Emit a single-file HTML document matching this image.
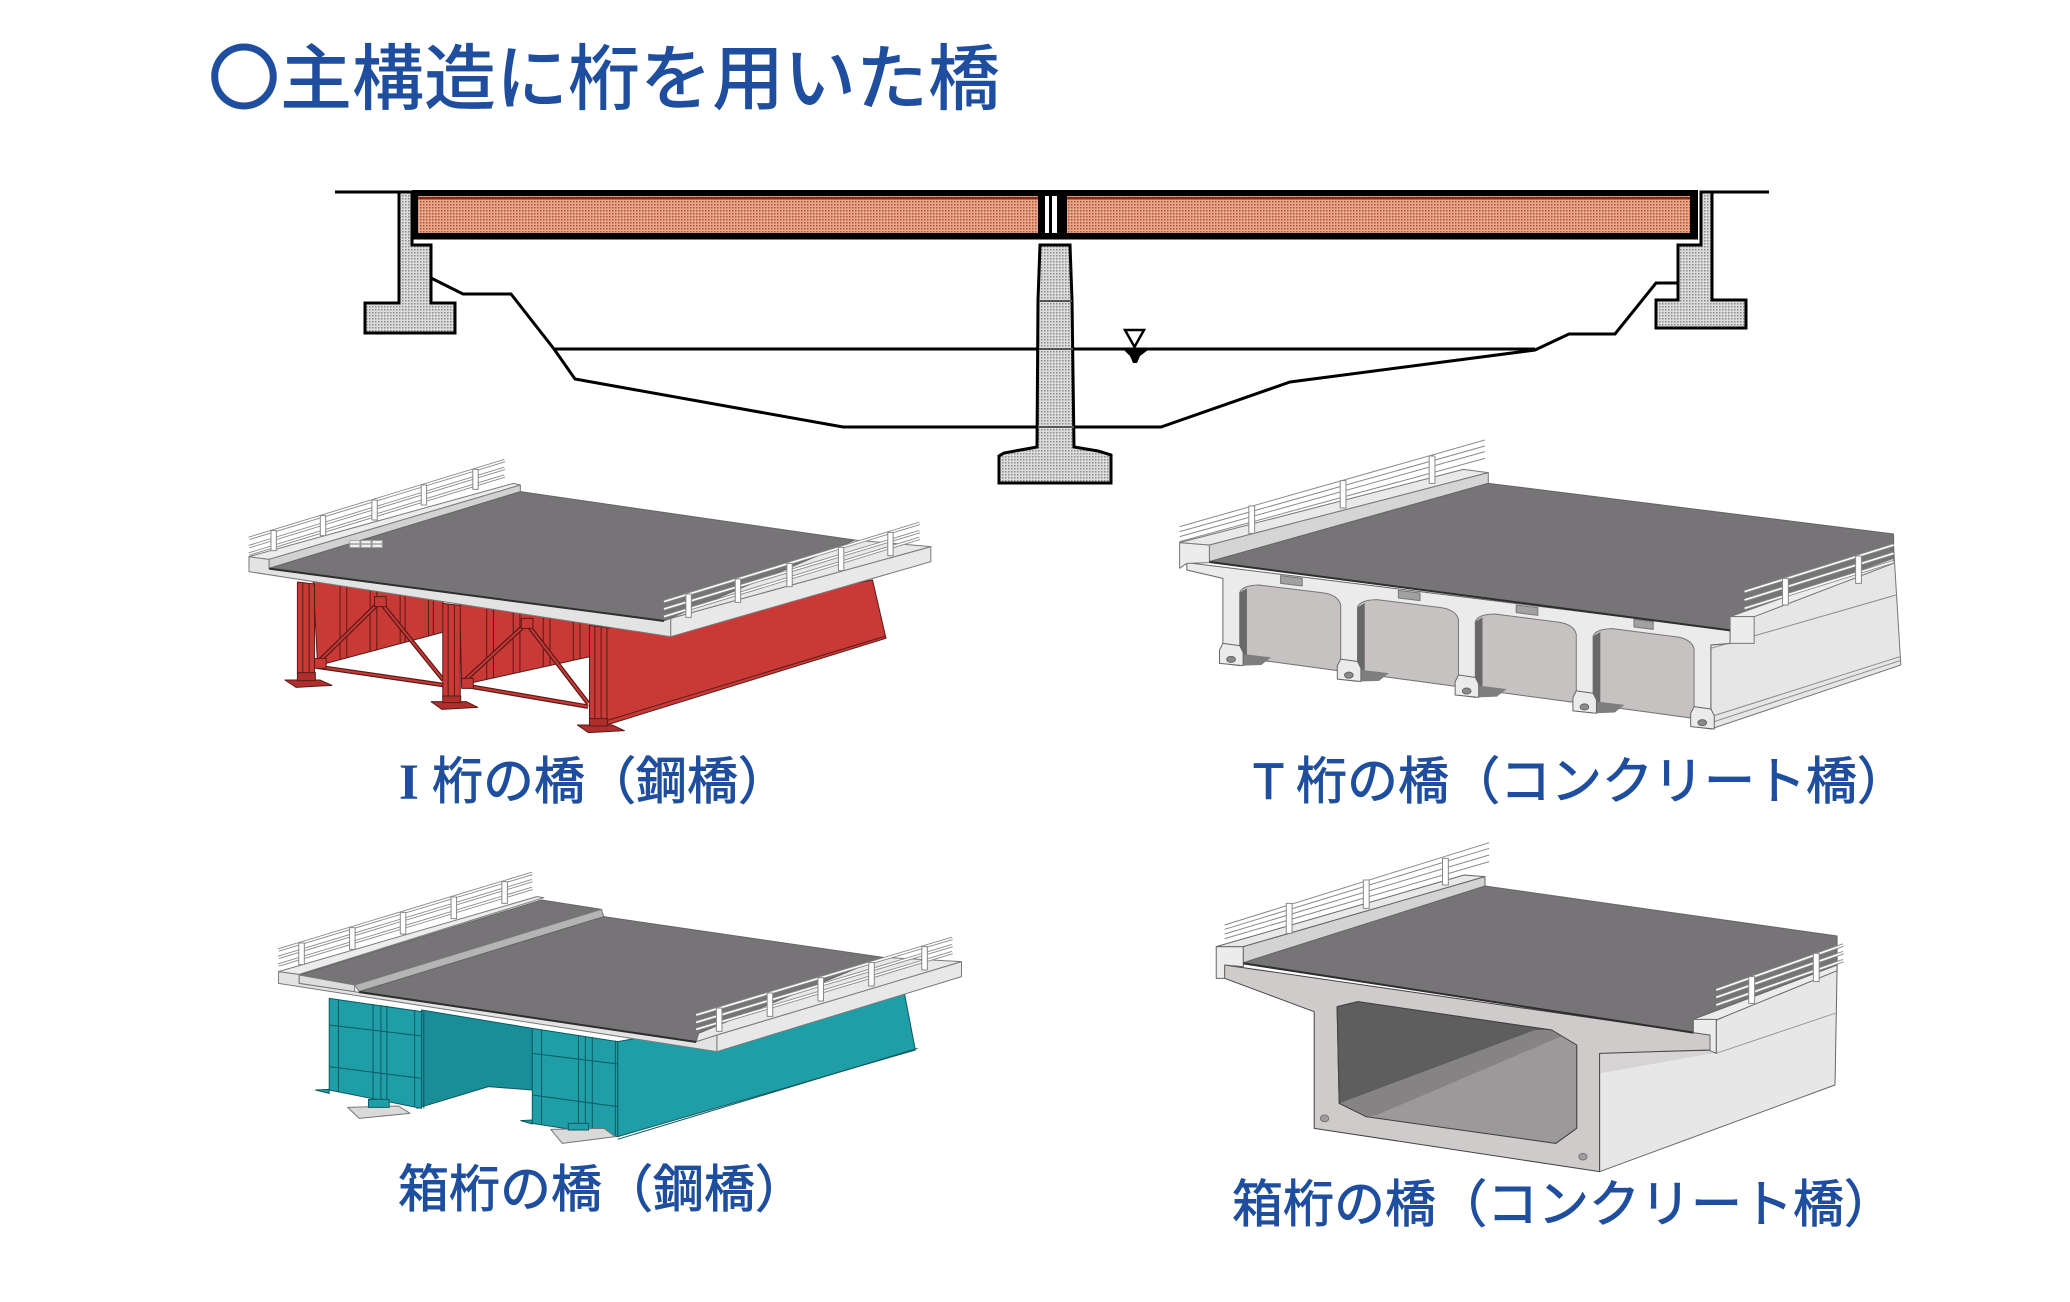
<!DOCTYPE html>
<html><head><meta charset="utf-8">
<style>
html,body{margin:0;padding:0;background:#fff;}
body{width:2070px;height:1302px;overflow:hidden;}
svg{display:block;}
.g *{vector-effect:non-scaling-stroke;stroke-linejoin:round;}
.jp{font-family:"Liberation Sans","Noto Sans CJK JP",sans-serif;fill:#1f4e9e;font-weight:400;stroke:#1f4e9e;stroke-width:0.9px;}
.lt{font-family:"Liberation Sans",sans-serif;fill:#1f4e9e;stroke:#1f4e9e;stroke-width:0.9px;}
.ls{font-family:"Liberation Serif",serif;fill:#1f4e9e;font-weight:bold;}
</style></head><body>
<svg width="2070" height="1302" viewBox="0 0 2070 1302" xmlns="http://www.w3.org/2000/svg">
<defs>
<pattern id="dotO" width="3" height="3" patternUnits="userSpaceOnUse"><rect width="3" height="3" fill="#e8a88c"/><rect width="1.5" height="1.5" fill="#b04f34"/></pattern>
<pattern id="dotG" width="3" height="3" patternUnits="userSpaceOnUse"><rect width="3" height="3" fill="#dcdcdc"/><rect width="1.5" height="1.5" fill="#8a8a8a"/></pattern>
</defs>

<!-- Title -->
<text x="208" y="104" font-size="72" style="font-family:'Noto Sans CJK JP',sans-serif;fill:#1f4e9e;font-weight:500">〇主構造に桁を用いた橋</text>

<!-- ============ Section diagram ============ -->
<g fill="none" stroke="#000" stroke-width="3">
<polyline points="335,192 399,192"/>
<polyline points="1712,192 1769,192"/>
<polyline points="431,278 463,294 511,294 554,349 575,379 843,427 1040,427"/>
<polyline points="1072,427 1161,427 1290,382 1535,350 1569,334 1615,334 1656,283 1678,283"/>
<polyline points="554,349 1040,349"/>
<polyline points="1072,349 1535,349"/>
</g>
<!-- deck -->
<rect x="412" y="190" width="1286" height="49.5" fill="#000"/>
<rect x="418" y="196" width="620" height="37" fill="url(#dotO)"/>
<rect x="1067" y="196" width="623" height="37" fill="url(#dotO)"/>
<rect x="418" y="197" width="620" height="2.5" fill="#7a2e18"/>
<rect x="1067" y="197" width="623" height="2.5" fill="#7a2e18"/>
<rect x="1045" y="196" width="4" height="37" fill="#fff"/>
<rect x="1052" y="196" width="5" height="37" fill="#fff"/>
<!-- abutments -->
<polygon points="399,192 412,192 412,245 431,245 431,303 455,303 455,333 365,333 365,303 399,303" fill="url(#dotG)" stroke="#000" stroke-width="3"/>
<polygon points="1701,192 1712,192 1712,300 1746,300 1746,328 1656,328 1656,300 1678,300 1678,245 1701,245" fill="url(#dotG)" stroke="#000" stroke-width="3"/>
<!-- pier -->
<polygon points="1040,245 1070,245 1072,300 1074,447 1098,451 1111,455 1111,483 999,483 999,456 1004,453 1037,447 1038,300" fill="url(#dotG)" stroke="#000" stroke-width="3"/>
<g stroke="#555" stroke-width="2"><line x1="1039" y1="301" x2="1072" y2="301"/><line x1="1039" y1="349" x2="1073" y2="349"/><line x1="1038" y1="427" x2="1074" y2="427"/></g>
<!-- water mark -->
<polygon points="1125,330 1144,330 1134.5,347" fill="#fff" stroke="#000" stroke-width="2.5"/>
<polygon points="1124,350 1148,350 1140,356 1137,363 1133,363 1130,356" fill="#000"/>

<!-- ============ I-girder bridge ============ -->
<g class="g" transform="translate(240,450) scale(0.4486,0.33333)" stroke="#5a1a18" stroke-width="1">
 <polygon points="817,535 1410,390 1440,565 817,825" fill="#c93936"/>
 <polyline points="817,812 1440,558" fill="none"/>
 <polygon points="163,392 453,452 457,545 173,647" fill="#c93936"/>
 <polygon points="490,460 780,520 780,620 494,705" fill="#c93936"/>
 <path d="M223,400V629 M238,400V624 M290,410V605 M305,412V600 M357,420V581 M368,422V577 M420,430V558 M431,432V554" fill="none"/>
 <path d="M550,470V688 M565,472V684 M609,480V671 M624,482V666 M676,495V651 M691,498V646 M743,508V631 M758,510V626" fill="none"/>
 <path d="M171,650 L453,705 M494,705 L776,770 M312,455 L175,635 M312,455 L453,690 M639,520 L498,695 M639,520 L776,760" fill="none" stroke="#5a1a18" stroke-width="4.5"/>
 <path d="M171,650 L453,705 M494,705 L776,770 M312,455 L175,635 M312,455 L453,690 M639,520 L498,695 M639,520 L776,760" fill="none" stroke="#c93936" stroke-width="2"/>
 <rect x="300" y="440" width="26" height="30" fill="#c93936"/>
 <rect x="627" y="505" width="26" height="30" fill="#c93936"/>
 <rect x="166" y="625" width="26" height="30" fill="#c93936"/>
 <rect x="494" y="685" width="26" height="30" fill="#c93936"/>
 <polygon points="100,690 178,690 205,706 125,712" fill="#b02e2b"/>
 <polygon points="426,755 505,755 530,772 450,778" fill="#b02e2b"/>
 <polygon points="752,825 830,825 857,842 777,848" fill="#b02e2b"/>
 <polygon points="128,396 166,402 166,675 128,670" fill="#c93936"/>
 <path d="M140,398V672 M154,400V673" fill="none"/>
 <polygon points="452,460 491,466 491,745 452,740" fill="#c93936"/>
 <path d="M464,462V742 M478,464V743" fill="none"/>
 <polygon points="779,526 818,532 818,812 779,806" fill="#c93936"/>
 <path d="M791,528V808 M805,530V810" fill="none"/>
 <rect x="128" y="668" width="40" height="24" fill="#b02e2b"/>
 <rect x="452" y="738" width="40" height="20" fill="#b02e2b"/>
 <rect x="779" y="806" width="40" height="22" fill="#b02e2b"/>
 <g stroke="#7a7a7a">
  <polygon points="960,505 1540,290 1540,335 960,560" fill="#e8e8e8"/>
  <polygon points="20,320 65,328 65,355 945,512 960,505 960,560 20,365" fill="#e3e3e3"/>
  <polygon points="20,320 610,100 625,105 65,328" fill="#ececec"/>
  <polygon points="65,328 625,105 625,125 65,355" fill="#d2d2d2"/>
  <polygon points="945,512 1370,270 1540,290 960,505" fill="#e8e8e8"/>
  <polygon points="65,355 625,125 1370,270 945,512" fill="#767476" stroke="#666"/>
 </g>
 <line x1="65" y1="356" x2="945" y2="513" stroke="#2e2e2e" stroke-width="2"/>
 <g fill="#f4f4f4" stroke="#aaa">
  <rect x="245" y="272" width="22" height="9"/><rect x="270" y="272" width="22" height="9"/><rect x="295" y="272" width="22" height="9"/>
  <rect x="245" y="283" width="22" height="9"/><rect x="270" y="283" width="22" height="9"/><rect x="295" y="283" width="22" height="9"/>
 </g>
 <g fill="none">
  <path d="M20,265 L590,32 M20,290 L590,55 M20,312 L590,78" stroke="#8a8a8a" stroke-width="3.4"/>
  <path d="M20,265 L590,32 M20,290 L590,55 M20,312 L590,78" stroke="#fff" stroke-width="1.6"/>
 </g>
 <g fill="#fff" stroke="#888">
  <rect x="69" y="242" width="12" height="60"/><rect x="179" y="197" width="12" height="60"/><rect x="294" y="150" width="12" height="60"/><rect x="404" y="105" width="12" height="60"/><rect x="519" y="58" width="12" height="60"/>
 </g>
 <g fill="none">
  <path d="M945,455 L1515,220 M945,477 L1515,245 M945,500 L1515,265" stroke="#8a8a8a" stroke-width="3.4"/>
  <path d="M945,455 L1515,220 M945,477 L1515,245 M945,500 L1515,265" stroke="#fff" stroke-width="1.6"/>
 </g>
 <g fill="#fff" stroke="#888">
  <rect x="994" y="432" width="12" height="70"/><rect x="1104" y="387" width="12" height="70"/><rect x="1219" y="340" width="12" height="70"/><rect x="1334" y="292" width="12" height="70"/><rect x="1444" y="247" width="12" height="70"/>
 </g>
</g>

<!-- ============ T-girder bridge ============ -->
<g class="g" transform="translate(1170,430) scale(0.4808,0.33333)" stroke="#777" stroke-width="1">
 <polygon points="1165,560 1505,350 1520,705 1125,897 1125,645 1165,640" fill="#e6e6e6"/>
 <path d="M1125,655 L1510,495 M1125,860 L1518,680 M1125,878 L1518,692" fill="none" stroke="#8a8a8a"/>
 <polygon points="35,398 1165,600 1165,640 1125,645 1125,897 1090,890 1090,865 880,824 880,849 845,843 845,818 635,777 635,802 600,795 600,770 390,729 390,754 355,748 355,723 145,682 145,707 110,700 110,445 35,420" fill="#ebebeb" stroke="#666"/>
 <g fill="#c6c2c2" stroke="#777">
  <path d="M145,488 Q150,466 185,465 L315,488 Q350,494 355,525 L355,723 L145,682 Z"/>
  <path d="M390,532 Q395,510 430,509 L560,532 Q595,538 600,569 L600,770 L390,729 Z"/>
  <path d="M635,575 Q640,553 675,552 L805,576 Q840,582 845,613 L845,818 L635,777 Z"/>
  <path d="M880,619 Q885,597 920,596 L1050,620 Q1085,626 1090,657 L1090,865 L880,824 Z"/>
 </g>
 <g fill="#686868" stroke="none">
  <path d="M145,488 L160,475 L160,685 L145,682 Z"/>
  <path d="M390,532 L405,519 L405,732 L390,729 Z"/>
  <path d="M635,575 L650,562 L650,780 L635,777 Z"/>
  <path d="M880,619 L895,606 L895,827 L880,824 Z"/>
 </g>
 <g fill="#a3a0a0" stroke="#777">
  <polygon points="230,437 275,445 275,468 230,460"/>
  <polygon points="475,481 520,489 520,512 475,504"/>
  <polygon points="720,525 765,533 765,556 720,548"/>
  <polygon points="965,568 1005,575 1005,598 965,591"/>
 </g>
 <g fill="#7e7e7e" stroke="none">
  <polygon points="152,672 210,682 190,705 152,707"/>
  <polygon points="397,719.5 455,729.5 435,752.5 397,754.5"/>
  <polygon points="642,767 700,777 680,800 642,802"/>
  <polygon points="887,814.6 945,824.6 925,847.6 887,849.6"/>
 </g>
 <g fill="#ebebeb" stroke="#666">
  <polygon points="110,640 103,660 103,700 152,707 152,667 145,647"/>
  <polygon points="355,687.5 348,707.5 348,747.5 397,754.5 397,714.5 390,694.5"/>
  <polygon points="600,735 593,755 593,795 642,802 642,762 635,742"/>
  <polygon points="845,782.6 838,802.6 838,842.6 887,849.6 887,809.6 880,789.6"/>
  <polygon points="1090,830 1083,850 1083,890 1132,897 1132,857 1125,837"/>
 </g>
 <g fill="#8a8a8a" stroke="#666">
  <circle cx="127" cy="688" r="9"/><circle cx="372" cy="735.5" r="9"/><circle cx="617" cy="783" r="9"/><circle cx="862" cy="830.6" r="9"/><circle cx="1107" cy="878" r="9"/>
 </g>
 <polygon points="20,338 82,345 82,398 35,400 20,415" fill="#ececec"/>
 <polygon points="20,338 610,118 662,128 82,345" fill="#e9e9e9"/>
 <polygon points="82,345 662,128 662,160 82,395" fill="#d5d5d5"/>
 <polygon points="82,395 662,160 1505,312 1505,385 1165,560 1165,600" fill="#767476" stroke="#666"/>
 <polygon points="1165,560 1505,385 1505,400 1215,560" fill="#ececec"/>
 <polygon points="1165,560 1215,560 1215,640 1165,640" fill="#ececec"/>
 <line x1="82" y1="396" x2="1165" y2="601" stroke="#2e2e2e" stroke-width="2"/>
 <path d="M20,290 L655,30 M20,305 L655,48 M20,320 L655,65 M20,335 L655,85" fill="none" stroke="#8a8a8a" stroke-width="1"/>
 <g fill="#fff" stroke="#888">
  <rect x="164" y="228" width="12" height="82"/><rect x="354" y="152" width="12" height="82"/><rect x="539" y="78" width="12" height="82"/>
 </g>
 <g fill="none">
  <path d="M1195,485 L1505,345 M1195,510 L1505,370 M1195,535 L1505,395" stroke="#8a8a8a" stroke-width="3.4"/>
  <path d="M1195,485 L1505,345 M1195,510 L1505,370 M1195,535 L1505,395" stroke="#fff" stroke-width="1.6"/>
 </g>
 <g fill="#fff" stroke="#888">
  <rect x="1274" y="445" width="12" height="80"/><rect x="1426" y="378" width="12" height="82"/>
 </g>
</g>

<!-- ============ Steel box girder bridge ============ -->
<g class="g" transform="translate(260,860) scale(0.4615,0.33333)" stroke="#0c5a60" stroke-width="1">
 <polygon points="775,545 1395,390 1420,570 775,830" fill="#1f9ea7"/>
 <polyline points="775,838 1425,565" fill="none"/>
 <polygon points="350,450 590,505 590,690 495,680 340,745" fill="#198e97"/>
 <polygon points="590,505 775,545 775,830 590,790" fill="#1f9ea7"/>
 <polygon points="150,415 350,455 350,745 150,690" fill="#1f9ea7"/>
 <polygon points="120,690 150,688 150,700" fill="#1f9ea7"/>
 <polygon points="565,782 590,780 590,792" fill="#1f9ea7"/>
 <path d="M170,418V694 M245,432V715 M262,435V718 M275,437V721 M335,450V740 M150,495 L350,528 M150,620 L350,655 M610,509V794 M690,525V808 M705,528V812 M720,531V815 M770,542V826 M590,580 L775,612 M590,705 L775,740 M355,455V745" fill="none"/>
 <polygon points="190,742 300,738 325,760 215,775" fill="#dadada" stroke="#777"/>
 <rect x="235" y="718" width="45" height="24" fill="#1f9ea7"/>
 <polygon points="630,808 745,805 770,830 655,850" fill="#dadada" stroke="#777"/>
 <rect x="668" y="790" width="44" height="20" fill="#1f9ea7"/>
 <g stroke="#7a7a7a">
  <polygon points="990,525 1520,305 1520,350 990,575" fill="#e8e8e8"/>
  <polygon points="40,335 85,343 85,370 205,395 215,398 945,545 990,525 990,575 40,370" fill="#e3e3e3"/>
  <polygon points="40,335 600,110 615,113 85,343" fill="#ececec"/>
  <polygon points="945,545 950,520 1350,292 1520,305 990,525" fill="#e8e8e8"/>
  <polygon points="85,345 610,120 740,148 205,375" fill="#767476" stroke="#666"/>
  <polygon points="85,345 205,375 205,395 85,370" fill="#dddddd"/>
  <polygon points="205,375 740,148 745,170 215,395" fill="#b4b4b4"/>
  <polygon points="215,395 745,170 1350,292 950,520 945,545" fill="#767476" stroke="#666"/>
 </g>
 <line x1="215" y1="396" x2="945" y2="546" stroke="#2e2e2e" stroke-width="2"/>
 <g fill="none">
  <path d="M40,270 L590,40 M40,292 L590,62 M40,315 L590,85" stroke="#8a8a8a" stroke-width="3.4"/>
  <path d="M40,270 L590,40 M40,292 L590,62 M40,315 L590,85" stroke="#fff" stroke-width="1.6"/>
 </g>
 <g fill="#fff" stroke="#888">
  <rect x="84" y="249" width="12" height="65"/><rect x="194" y="203" width="12" height="65"/><rect x="304" y="157" width="12" height="65"/><rect x="414" y="111" width="12" height="65"/><rect x="524" y="65" width="12" height="65"/>
 </g>
 <g fill="none">
  <path d="M945,465 L1500,235 M945,487 L1500,257 M945,508 L1500,278" stroke="#8a8a8a" stroke-width="3.4"/>
  <path d="M945,465 L1500,235 M945,487 L1500,257 M945,508 L1500,278" stroke="#fff" stroke-width="1.6"/>
 </g>
 <g fill="#fff" stroke="#888">
  <rect x="989" y="444" width="12" height="70"/><rect x="1099" y="399" width="12" height="70"/><rect x="1209" y="353" width="12" height="70"/><rect x="1319" y="308" width="12" height="70"/><rect x="1434" y="260" width="12" height="70"/>
 </g>
</g>

<!-- ============ Concrete box girder bridge ============ -->
<g class="g" transform="translate(1210,840) scale(0.41667,0.33333)" stroke="#666" stroke-width="1">
 <polygon points="935,640 1200,632 1215,640 1215,540 1505,385 1500,735 935,995" fill="#e7e7e7"/>
 <polygon points="935,640 1205,632 1205,640 935,700" fill="#d6d4d4" stroke="none"/>
 <path d="M1215,640 L1500,520" fill="none" stroke="#999"/>
 <polygon points="35,375 1200,585 1200,630 935,640 935,995 250,865 250,515 35,415" fill="#cfcbcb" stroke="#444"/>
 <polygon points="355,485 820,570 880,615 880,865 830,910 375,830 310,790 305,500" fill="#5e5e5e" stroke="#444"/>
 <polygon points="310,790 780,570 820,570 880,615 880,865 830,910 375,830" fill="#858383" stroke="none"/>
 <polygon points="400,825 845,588 880,615 880,865 830,910 375,830" fill="#9b9999" stroke="none"/>
 <polygon points="355,485 820,570 880,615 880,865 830,910 375,830 310,790 305,500" fill="none" stroke="#444"/>
 <g fill="#a09c9c" stroke="#777"><circle cx="275" cy="835" r="10"/><circle cx="895" cy="950" r="10"/></g>
 <polygon points="15,320 80,320 80,380 35,375 35,415 15,415" fill="#ececec"/>
 <polygon points="15,320 610,105 660,110 80,320" fill="#e8e8e8"/>
 <polygon points="80,320 660,110 660,140 80,368" fill="#d3d3d3"/>
 <polygon points="80,368 660,138 1505,288 1505,378 1215,540 1160,540 1160,578" fill="#767476" stroke="#666"/>
 <polygon points="1160,538 1505,375 1505,392 1215,540" fill="#ececec"/>
 <polygon points="1160,538 1215,538 1215,640 1200,632 1200,585 1160,578" fill="#ececec"/>
 <line x1="80" y1="370" x2="1160" y2="578" stroke="#2e2e2e" stroke-width="2"/>
 <path d="M35,255 L670,8 M35,268 L670,25 M35,282 L670,45 M35,296 L670,65" fill="none" stroke="#8a8a8a" stroke-width="1"/>
 <g fill="#fff" stroke="#888">
  <rect x="183" y="190" width="14" height="90"/><rect x="368" y="120" width="14" height="85"/><rect x="558" y="55" width="14" height="80"/>
 </g>
 <g fill="none">
  <path d="M1215,450 L1520,315 M1215,472 L1520,338 M1215,495 L1520,362" stroke="#8a8a8a" stroke-width="3.4"/>
  <path d="M1215,450 L1520,315 M1215,472 L1520,338 M1215,495 L1520,362" stroke="#fff" stroke-width="1.6"/>
 </g>
 <g fill="#fff" stroke="#888">
  <rect x="1293" y="410" width="14" height="80"/><rect x="1448" y="340" width="14" height="85"/>
 </g>
</g>

<!-- ============ Labels ============ -->
<text class="ls" x="399" y="799" font-size="51">I</text>
<text class="jp" x="432" y="799" font-size="51">桁の橋（鋼橋）</text>
<text class="lt" x="1253" y="799" font-size="51">T</text>
<text class="jp" x="1296" y="799" font-size="51">桁の橋（コンクリート橋）</text>
<text class="jp" x="398" y="1207" font-size="51">箱桁の橋（鋼橋）</text>
<text class="jp" x="1232" y="1222" font-size="51">箱桁の橋（コンクリート橋）</text>
</svg>
</body></html>
